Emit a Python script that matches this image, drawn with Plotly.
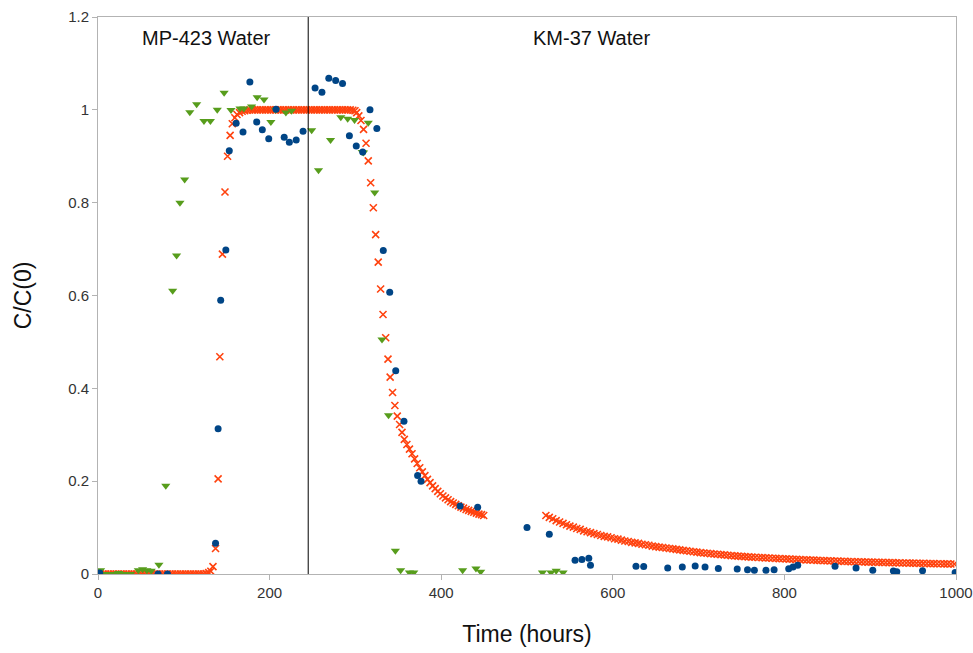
import plotly.graph_objects as go

# ---------------- data ----------------
# Blue circles (measured)
blue_time = [2, 70, 81, 137, 140, 143, 149, 153, 161, 169, 177, 185, 191.5, 199, 207.5, 217, 223, 231, 239,
             253, 261, 269, 277, 285, 293, 301, 308.5, 317, 325, 332.5, 340, 347, 356.6, 372.5, 376.5,
             422, 442.5, 500, 526, 556, 564, 572, 574, 627, 636, 664, 681, 696, 707.5, 723, 745, 757,
             765, 778.5, 788, 805, 810, 815.5, 859, 883.5, 903, 927, 931, 961, 999]
blue_value = [0.002, 0.0, 0.0, 0.066, 0.313, 0.59, 0.698, 0.912, 0.971, 0.952, 1.06, 0.974, 0.957, 0.9375,
              1.0015, 0.941, 0.930, 0.935, 0.954, 1.047, 1.038, 1.068, 1.063, 1.057, 0.944, 0.922, 0.909,
              1.0, 0.96, 0.697, 0.607, 0.438, 0.329, 0.212, 0.200, 0.1465, 0.144, 0.100, 0.0855, 0.0295,
              0.031, 0.034, 0.019, 0.0165, 0.016, 0.013, 0.015, 0.017, 0.015, 0.012, 0.011, 0.009, 0.008,
              0.008, 0.009, 0.0115, 0.015, 0.019, 0.0165, 0.013, 0.008, 0.0065, 0.005, 0.007, 0.003]

# Green triangles (measured)
green_time = [3, 10, 17, 24, 31, 38, 47, 52, 57, 62, 71, 79, 87, 91.6, 95.5, 101, 107, 115, 123.5, 131,
              139, 147, 155, 165.5, 170, 179, 185.5, 193.5, 201.5, 207, 219, 225.6, 249, 257, 271, 283,
              291, 299, 308, 309.5, 315, 322.5, 331, 338.6, 346.6, 352.7, 363, 368, 425, 440.5, 446,
              518, 528, 534, 542]
green_value = [0.008, 0.0, 0.0, 0.002, 0.0, 0.0, 0.008, 0.01, 0.008, 0.007, 0.02, 0.19, 0.61, 0.686,
               0.80, 0.85, 0.995, 1.012, 0.976, 0.976, 1.0, 1.037, 0.9995, 1.003, 1.003, 1.007, 1.027,
               1.022, 0.974, 1.0, 0.994, 0.998, 0.956, 0.87, 0.935, 0.984, 0.981, 0.978, 0.909, 0.908,
               0.972, 0.822, 0.505, 0.342, 0.050, 0.008, 0.003, 0.003, 0.008, 0.012, 0.005, 0.003,
               0.003, 0.007, 0.003]

# Orange crosses (model)
orange_a_time = list(range(0, 130, 3))
orange_a_value = [0.0, 0.0, 0.0, 0.0, 0.0, 0.0, 0.0, 0.0, 0.0, 0.0, 0.0,
                  0.0, 0.0, 0.0, 0.0, 0.0, 0.0, 0.0, 0.0, 0.0, 0.0, 0.0,
                  0.0, 0.0, 0.0, 0.0, 0.0, 0.0, 0.0, 0.0, 0.0, 0.0, 0.0,
                  0.0, 0.0, 0.0, 0.0, 0.0, 0.0, 0.0, 0.0, 0.0, 0.001, 0.003]
orange_rise_time = [131.5, 134, 137, 140, 142, 145, 148, 151, 154, 156.5, 159.5, 162, 165, 168, 171, 174]
orange_rise_value = [0.006, 0.016, 0.055, 0.205, 0.468, 0.689, 0.823, 0.90, 0.945, 0.97, 0.983, 0.99,
                     0.994, 0.997, 0.998, 0.999]
orange_plateau_time = list(range(177, 298, 3))
orange_plateau_value = [1.0, 1.0, 1.0, 1.0, 1.0, 1.0, 1.0, 1.0, 1.0, 1.0,
                        1.0, 1.0, 1.0, 1.0, 1.0, 1.0, 1.0, 1.0, 1.0, 1.0,
                        1.0, 1.0, 1.0, 1.0, 1.0, 1.0, 1.0, 1.0, 1.0, 1.0,
                        1.0, 1.0, 1.0, 1.0, 1.0, 1.0, 1.0, 1.0, 1.0, 1.0, 0.999]
orange_fall_time = [299.5, 301.5, 304, 306.5, 309.5, 312.4, 315, 317.8, 320.9, 323.6, 326.6, 329.4,
                    332.2, 335.3, 338, 340.5, 343.3, 346, 348.8, 351.5, 354.3, 357]
orange_fall_value = [0.998, 0.994, 0.987, 0.977, 0.958, 0.928, 0.890, 0.843, 0.789, 0.731, 0.672, 0.614,
                     0.559, 0.509, 0.463, 0.424, 0.391, 0.363, 0.340, 0.322, 0.305, 0.290]
orange_b_time = list(range(360, 450, 3)) + [449.5]
orange_b_value = [0.279, 0.269, 0.259, 0.248, 0.238, 0.229, 0.220, 0.212, 0.204, 0.197,
                  0.190, 0.184, 0.178, 0.173, 0.168, 0.164, 0.160, 0.156, 0.153, 0.150,
                  0.147, 0.144, 0.142, 0.139, 0.137, 0.135, 0.133, 0.131, 0.129, 0.128, 0.126]
orange_c_time = list(range(522, 1000, 4))
orange_c_value = [0.126, 0.122, 0.119, 0.115, 0.112, 0.109, 0.106, 0.103, 0.101, 0.098,
                  0.096, 0.093, 0.091, 0.089, 0.087, 0.085, 0.083, 0.081, 0.080, 0.078,
                  0.076, 0.075, 0.073, 0.071, 0.070, 0.068, 0.067, 0.066, 0.064, 0.063,
                  0.062, 0.060, 0.059, 0.058, 0.057, 0.056, 0.055, 0.054, 0.053, 0.052,
                  0.051, 0.050, 0.049, 0.048, 0.047, 0.046, 0.0453, 0.0446, 0.0439, 0.0432,
                  0.0425, 0.0418, 0.0411, 0.0404, 0.0397, 0.039, 0.0384, 0.0379, 0.0374, 0.0369,
                  0.0364, 0.0360, 0.0356, 0.0352, 0.0348, 0.0344, 0.0340, 0.0336, 0.0332, 0.0328,
                  0.0325, 0.0321, 0.0318, 0.0314, 0.031, 0.0307, 0.0304, 0.0301, 0.0298, 0.0295,
                  0.0292, 0.0289, 0.0286, 0.0283, 0.028, 0.0277, 0.0275, 0.0272, 0.0270, 0.0267,
                  0.0265, 0.0263, 0.0261, 0.0259, 0.0257, 0.0255, 0.0253, 0.0251, 0.0249, 0.0247,
                  0.0245, 0.0244, 0.0242, 0.0240, 0.0238, 0.0237, 0.0235, 0.0233, 0.0232, 0.0230,
                  0.0228, 0.0227, 0.0225, 0.0224, 0.0222, 0.0221, 0.0219, 0.0218, 0.0216, 0.0215]

segments = [(orange_a_time, orange_a_value), (orange_rise_time, orange_rise_value),
            (orange_plateau_time, orange_plateau_value), (orange_fall_time, orange_fall_value),
            (orange_b_time, orange_b_value), (orange_c_time, orange_c_value)]
orange_time, orange_value = [], []
for t, v in segments:
    assert len(t) == len(v), (len(t), len(v))
    orange_time += t
    orange_value += v
assert len(blue_time) == len(blue_value)
assert len(green_time) == len(green_value)

switch_time = 245
labels = ["MP-423 Water", "KM-37 Water"]
label_x = [126, 575]

# ---------------- figure ----------------
fig = go.Figure()
fig.add_trace(go.Scatter(x=orange_time, y=orange_value, mode="markers",
                         marker=dict(symbol="x-thin", size=7, color="#ff420e",
                                     line=dict(width=1.6, color="#ff420e")),
                         showlegend=False))
fig.add_trace(go.Scatter(x=green_time, y=green_value, mode="markers",
                         marker=dict(symbol="triangle-down", size=8, color="#579d1c"),
                         showlegend=False))
fig.add_trace(go.Scatter(x=blue_time, y=blue_value, mode="markers",
                         marker=dict(symbol="circle", size=7, color="#004586"),
                         showlegend=False))

fig.add_shape(type="line", x0=switch_time, x1=switch_time, y0=0, y1=1.2,
              xref="x", yref="y", line=dict(color="black", width=1))

for txt, xx in zip(labels, label_x):
    fig.add_annotation(x=xx, y=1.155, text=txt, showarrow=False,
                       font=dict(size=20, color="#111111"))

axis_common = dict(showgrid=False, zeroline=False, showline=True, mirror=True,
                   linecolor="#b3b3b3", linewidth=1, ticks="outside", ticklen=5,
                   tickcolor="#b3b3b3", tickfont=dict(size=15, color="#333333"),
                   automargin=False)
fig.update_xaxes(range=[0, 1000], dtick=200, title=dict(text="Time (hours)",
                 font=dict(size=23, color="#111111"), standoff=25), **axis_common)
fig.update_yaxes(range=[0, 1.2], dtick=0.2, title=dict(text="C/C(0)",
                 font=dict(size=23, color="#111111"), standoff=30), **axis_common)

fig.update_layout(width=973, height=653, margin=dict(l=98, r=17, t=17, b=79),
                  plot_bgcolor="white", paper_bgcolor="white",
                  font=dict(family="Liberation Sans, Arial, sans-serif"))

fig.write_html("out.html")
